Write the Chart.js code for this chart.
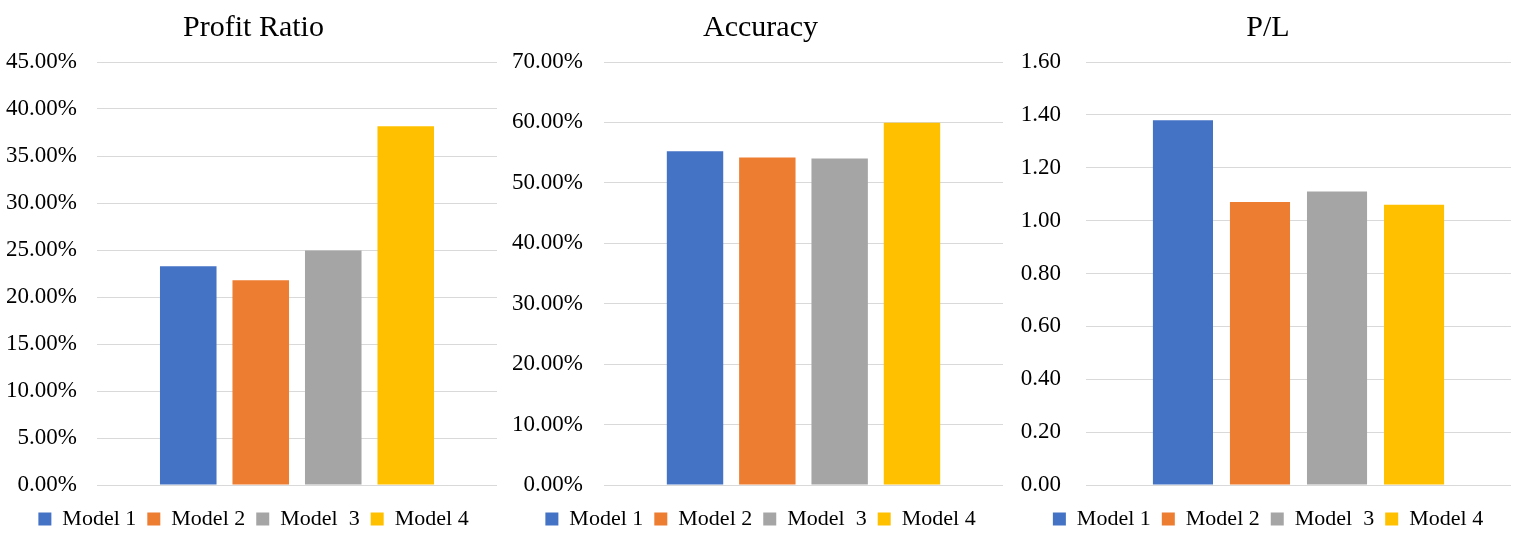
<!DOCTYPE html>
<html>
<head>
<meta charset="utf-8">
<script src="https://cdn.jsdelivr.net/npm/chart.js@4.4.1/dist/chart.umd.min.js"></script>
<style>
  body { margin: 0; background: #fff; }
  #wrap { display: flex; width: 1522px; height: 540px; }
  .panel { position: relative; height: 540px; }
</style>
</head>
<body>
<div id="wrap">
  <div class="panel" style="width:507px"><canvas id="c1"></canvas></div>
  <div class="panel" style="width:507px"><canvas id="c2"></canvas></div>
  <div class="panel" style="width:508px"><canvas id="c3"></canvas></div>
</div>
<script>
// values
const models = ['Model 1', 'Model 2', 'Model  3', 'Model 4'];
const profitRatio = [0.2327, 0.2177, 0.2495, 0.3817];
const accuracy = [0.5523, 0.5420, 0.5403, 0.5994];
const plRatio = [1.38, 1.07, 1.11, 1.06];
const colors = ['#4472C4', '#ED7D31', '#A5A5A5', '#FFC000'];

const FONT = "'Liberation Serif', 'Times New Roman', serif";

function pct(v) { return (v * 100).toFixed(2) + '%'; }
function dec(v) { return v.toFixed(2); }

function makeChart(id, title, values, max, step, fmt, leftW, rightW, tickPad) {
    let ctx = document.getElementById(id).getContext('2d');

    let datasets = models.map((m, i) => ({
        label: m,
        data: [values[i]],
        backgroundColor: colors[i],
        borderWidth: 0,
        categoryPercentage: 0.725,
        barPercentage: 0.78
    }));

    return new Chart(ctx, {
        type: 'bar',
        data: { labels: [title], datasets: datasets },
        options: {
            responsive: true,
            maintainAspectRatio: false,
            animation: false,
            plugins: {
                title: {
                    display: true,
                    text: title,
                    color: '#000',
                    font: { family: FONT, size: 30, weight: 'normal' },
                    padding: { top: 10, bottom: 16 }
                },
                legend: {
                    position: 'bottom',
                    labels: {
                        color: '#000',
                        font: { family: FONT, size: 22 },
                        boxWidth: 13,
                        boxHeight: 13,
                        padding: 11
                    }
                },
                tooltip: { enabled: false }
            },
            scales: {
                x: {
                    ticks: { display: false },
                    grid: { display: false },
                    border: { display: false },
                    afterFit: s => { s.height = 12; }
                },
                y: {
                    min: 0,
                    max: max,
                    ticks: {
                        stepSize: step,
                        color: '#000',
                        font: { family: FONT, size: 23 },
                        padding: tickPad,
                        callback: v => fmt(v)
                    },
                    grid: { color: '#d9d9d9', lineWidth: 1, drawTicks: false },
                    border: { display: false },
                    afterFit: s => { s.width = leftW; }
                },
                yr: {
                    type: 'linear',
                    position: 'right',
                    ticks: { display: false },
                    grid: { display: false },
                    border: { display: false },
                    afterFit: s => { s.width = rightW; }
                }
            }
        }
    });
}

makeChart('c1', 'Profit Ratio', profitRatio, 0.45, 0.05, pct, 97, 10, 20);
makeChart('c2', 'Accuracy', accuracy, 0.70, 0.10, pct, 97, 11, 21);
makeChart('c3', 'P/L', plRatio, 1.6, 0.2, dec, 72, 11, 25);
</script>
</body>
</html>
